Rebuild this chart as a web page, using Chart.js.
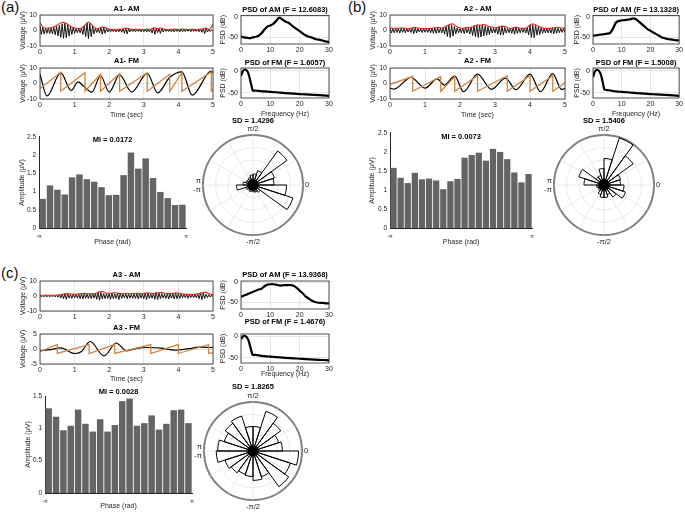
<!DOCTYPE html>
<html>
<head>
<meta charset="utf-8">
<title>Phase-amplitude coupling</title>
<script src="https://cdn.jsdelivr.net/npm/chart.js@4.4.1/dist/chart.umd.min.js"></script>
<style>
  html, body { margin: 0; padding: 0; background: #fff; }
  body { width: 685px; height: 513px; position: relative; overflow: hidden; font-family: "Liberation Sans", Arial, sans-serif; }
  canvas { position: absolute; }
  .tag { position: absolute; font-size: 15px; color: #111; }
</style>
</head>
<body>
<div class="tag" style="left:1px;top:-2px">(a)</div>
<div class="tag" style="left:348px;top:-2px">(b)</div>
<div class="tag" style="left:1px;top:264px">(c)</div>
<script>
// ---------- shared ticks ----------
const timeTicks = [0, 1, 2, 3, 4, 5];
const freqTicks = [0, 10, 20, 30];
const amStep = 0.04;   // s between carrier half-cycles
const envStep = 0.1;   // s between envelope samples
const psdFreq = [0,1,2,3,4,5,6,7,8,9,10,11,12,13,14,15,16,17,18,19,20,21,22,23,24,25,26,27,28,29,30];
const fmFreq = [0,0.5,1,1.5,2,2.5,3,3.5,4,5,6,8,10,12,15,18,20,22,25,28,30];

// ---------- panel (a) ----------
const carrierA = [3.0,-2.5,2.0,-2.2,1.6,-1.8,1.5,-2.0,1.6,-2.2,2.0,-2.8,2.6,
  -3.5,3.4,-4.5,4.2,-5.0,4.6,-4.8,3.8,-3.6,2.8,-2.6,2.0,
  -1.8,1.2,-1.4,1.0,-1.5,1.6,-2.6,3.2,-4.0,4.8,-5.2,4.6,-4.0,
  3.0,-2.2,1.4,-1.3,1.2,-1.6,1.8,-2.4,2.0,-1.8,1.3,-1.0,
  0.7,-0.8,0.6,-0.7,0.8,-0.9,0.7,-0.8,0.9,-1.1,1.2,-1.8,1.6,
  -2.2,1.2,-0.9,0.6,-0.7,0.6,-0.8,0.7,-0.6,0.7,-0.9,0.6,
  -0.7,0.8,-1.0,0.8,-0.9,1.0,-1.6,1.8,-2.4,1.6,-1.4,1.2,-1.8,
  1.5,-1.0,0.7,-0.6,0.5,-0.7,0.6,-0.8,0.7,-0.9,0.8,-0.6,
  0.6,-0.9,1.0,-0.8,0.6,-0.7,0.6,-0.5,0.6,-0.8,0.7,-0.6,0.5,
  -0.6,0.7,-0.8,0.9,-1.2,1.4,-2.0,1.6,-1.0,0.7,-0.6,0.5,
  -0.4];
const envelopeA = [5.0,2.0,1.5,1.8,2.2,3.5,4.8,5.2,4.0,2.5,1.8,1.2,1.5,3.5,5.5,3.8,1.6,1.4,2.2,1.8,
  0.8,0.6,0.8,0.7,1.0,1.6,0.9,0.6,0.8,0.7,0.6,0.9,0.8,1.8,1.2,1.6,0.8,0.6,0.7,0.9,
  0.6,1.0,0.7,0.6,0.8,0.6,0.7,1.0,1.6,0.8,4.0];
const fmTimeA = [0,0.2,0.6,0.9,1.1,1.25,1.5,1.75,2.0,2.3,2.65,3.1,3.4,3.75,4.1,4.4,4.95,5];
const fmWaveA = [6,-8,6.8,-4.5,1,-1.5,-5.5,5,-5.5,5.5,-5.5,6.5,-6,4,7.5,-7.5,8,7];
const sawTimeA = [0,0.6,0.6,1.3,1.3,1.75,1.75,2.3,2.3,3.1,3.1,3.75,3.75,4.1,4.1,4.95,4.95,5];
const sawA = [-3.2,7.2,-5,7,-5,6,-5,6.5,-5,7,-5,6,-5,7,-5,7.5,-5,-4];
const psdAmA = [-48,-50,-51,-52,-50,-48.5,-46,-40,-31,-24,-21,-17,-10,-2,-6,-11,-14,-19,-25,-30,-35,-40,-45,-48,-50,-53,-55,-56,-58,-60,-61];
const psdFmA = [-12,-3,2,2,0,-6,-18,-32,-45,-45,-46,-47,-48,-49,-51,-52,-53,-54,-55,-56,-57];
const ampA = [0.80,1.17,1.05,0.92,1.39,1.47,1.34,1.27,1.12,0.90,0.91,1.45,2.07,1.63,1.91,1.37,0.99,0.82,0.63,0.64];
const roseA = [0.42,0.45,0.84,0.30,0.22,0.20,0.16,0.14,0.15,0.20,0.33,0.15,0.12,0.14,0.12,0.14,0.15,0.18,0.84,0.67];

// ---------- panel (b) ----------
const carrierB = [1.4,-1.6,1.2,-1.5,1.5,-1.3,1.2,-1.6,1.4,-1.2,1.3,-1.5,1.1,
  -1.0,1.2,-1.3,1.6,-2.0,1.8,-1.6,1.2,-1.0,1.1,-1.3,1.2,
  -1.1,1.0,-1.2,1.3,-1.5,1.6,-1.8,1.7,-1.9,1.8,-1.5,1.4,-1.6,
  1.8,-2.4,3.0,-3.8,3.6,-4.5,3.4,-3.6,2.6,-2.2,1.6,-1.4,
  1.3,-1.5,1.6,-2.0,1.8,-1.6,1.5,-2.2,2.4,-3.2,3.2,-4.0,3.6,
  -4.5,3.3,-4.2,3.8,-3.5,2.8,-3.0,2.4,-2.6,2.0,-1.6,1.4,
  -1.5,1.8,-2.4,2.6,-3.0,2.6,-2.8,2.0,-1.6,1.3,-1.4,1.5,-1.8,
  2.0,-2.4,2.2,-1.8,1.5,-1.4,1.3,-1.2,1.4,-1.6,2.0,-2.8,
  3.5,-4.4,3.8,-4.6,3.4,-3.0,2.4,-2.6,2.0,-1.8,1.4,-1.5,1.3,
  -1.6,1.4,-1.7,1.9,-2.2,2.0,-1.8,1.5,-1.4,1.3,-1.2,1.4,
  -1.3];
const envelopeB = [1.6,1.5,1.4,1.6,1.5,1.3,1.4,2.0,1.6,1.3,1.2,1.3,1.5,1.8,1.9,1.6,2.5,3.8,4.2,2.6,
  1.6,1.5,2.0,1.8,2.6,3.6,3.4,3.8,2.8,2.4,1.6,2.2,2.8,2.4,1.5,1.4,2.2,1.6,1.4,1.5,
  3.8,4.2,3.2,2.2,1.5,1.4,1.5,1.8,2.1,1.6,1.5];
const fmTimeB = [0,0.12,0.6,1.0,1.35,1.55,1.85,2.1,2.5,2.9,3.3,3.6,4.0,4.3,4.65,4.9,5];
const fmWaveB = [-3,-3.6,4,-3,3,-1,4.7,-5.3,6,-3.8,3.5,-4,6,-5.3,6.4,-3.8,-3.2];
const sawTimeB = [0,0.65,0.65,1.45,1.45,1.85,1.85,2.5,2.5,3.35,3.35,4.0,4.0,4.65,4.65,5];
const sawB = [-0.5,4.5,-5,4.5,-5,4.5,-5,5,-5,5,-5,5,-5,5,-5,0.5];
const psdAmB = [-46,-45,-44,-43,-42,-41,-39,-28,-14,-10,-9,-8,-7,-6,-4,-6,-12,-18,-24,-30,-34,-38,-42,-46,-50,-52,-54,-55,-56,-57,-57];
const psdFmB = [-15,-4,1,2,0,-5,-15,-30,-43,-44,-45,-47,-48,-49,-51,-52,-53,-54,-55,-56,-57];
const ampB = [1.58,1.32,1.18,1.45,1.28,1.30,1.25,1.02,1.23,1.29,1.85,1.92,1.98,1.77,2.08,2.00,1.81,1.46,1.20,1.42];
const roseB = [0.33,0.35,0.72,0.99,0.53,0.33,0.20,0.20,0.53,0.40,0.15,0.12,0.14,0.20,0.25,0.25,0.20,0.30,0.45,0.40];

// ---------- panel (c) ----------
const carrierC = [0.4,-0.5,0.3,-0.4,0.5,-0.4,0.3,-0.5,0.4,-0.3,0.5,-0.6,0.5,
  -0.8,1.0,-1.4,1.2,-1.8,1.5,-2.2,1.6,-1.4,1.2,-1.6,1.4,
  -1.2,1.0,-1.5,1.3,-1.8,1.6,-2.0,1.8,-1.5,1.2,-1.6,1.5,-1.8,
  1.6,-1.4,1.8,-2.2,2.6,-2.8,2.4,-2.0,1.6,-1.8,1.5,-1.6,
  1.8,-2.2,2.0,-1.8,1.4,-1.6,1.8,-2.4,2.0,-1.6,1.4,-1.2,1.5,
  -1.8,1.6,-1.4,1.2,-1.5,1.3,-1.6,1.8,-2.0,1.6,-1.4,1.5,
  -1.8,2.0,-2.4,2.0,-1.6,1.4,-1.5,1.8,-2.2,2.6,-2.4,2.0,-1.8,
  1.6,-1.4,1.2,-1.6,1.8,-2.0,1.6,-1.4,1.6,-2.0,2.2,-1.8,
  1.5,-1.6,1.4,-1.2,1.0,-1.2,1.4,-1.6,1.2,-1.0,0.9,-1.1,1.0,
  -1.2,1.4,-1.8,2.2,-2.4,2.0,-1.5,1.2,-1.0,0.8,-0.7,0.6,
  -0.5];
const envelopeC = [0.5,0.5,0.4,0.5,0.5,0.6,0.8,1.4,1.6,1.2,1.2,1.4,1.6,1.8,1.5,1.4,1.6,2.6,3.0,2.0,
  1.8,2.0,2.2,1.6,1.5,1.8,1.5,1.6,1.8,1.7,1.8,2.2,1.8,1.6,2.0,2.4,1.8,1.6,1.7,1.8,
  2.0,1.4,1.2,1.1,1.0,1.3,1.6,2.2,2.4,1.4,1.0];
const fmTimeC = [0,0.3,0.6,1.0,1.2,1.45,1.85,2.2,2.5,2.8,3.1,3.5,3.9,4.3,4.6,5];
const fmWaveC = [-0.6,-0.2,0.4,-1.5,-0.8,2.5,-2.3,2.0,-0.6,0.2,0.5,0.3,-0.4,0.1,0.6,0.5];
const sawTimeC = [0,0.5,0.5,1.42,1.42,2.16,2.16,3.2,3.2,4.0,4.0,4.87,4.87,5];
const sawC = [-0.9,1.5,-1.5,1.5,-1.5,1.5,-1.5,1.5,-1.5,1.5,-1.5,1.5,-1.5,-1.2];
const psdAmC = [-36,-33,-30,-27,-24,-21,-18,-16,-10,-6,-5,-5,-6,-8,-8,-7,-7,-7,-9,-14,-21,-27,-35,-40,-45,-48,-50,-51,-51,-52,-52];
const psdFmC = [-6,-1,2,1,-2,-8,-20,-33,-43,-43,-44,-46,-47,-48,-50,-51,-52,-53,-54,-55,-56];
const ampC = [1.31,1.18,0.97,1.04,1.29,1.07,0.95,1.14,0.95,1.05,1.42,1.46,1.04,1.08,1.20,0.98,1.07,1.28,1.29,1.08];
const roseC = [0.60,0.55,0.70,0.85,0.50,0.50,0.75,0.70,0.62,0.72,0.75,0.60,0.55,0.50,0.52,0.60,0.55,0.90,0.80,0.93];

const polarLabels = ['π/2', '', '', '0', '', '', '-π/2', '', '', ['π', '-π'], '', ''];

// ---------- defaults ----------
Chart.defaults.font.family = '"Liberation Sans", Arial, sans-serif';
Chart.defaults.font.size = 7;
Chart.defaults.color = '#262626';
Chart.defaults.animation = false;
Chart.defaults.responsive = false;
Chart.defaults.plugins.legend.display = false;
Chart.defaults.plugins.tooltip.enabled = false;
Chart.defaults.elements.point.radius = 0;

const GRID = '#e6e6e6';
const AXIS = '#262626';
const RED = '#e3261f';
const ORANGE = '#d0843f';

const boxFrame = {
  id: 'boxFrame',
  afterDraw(chart) {
    const { ctx, chartArea: a } = chart;
    ctx.save();
    ctx.strokeStyle = AXIS;
    ctx.lineWidth = 0.8;
    ctx.strokeRect(a.left, a.top, a.right - a.left, a.bottom - a.top);
    ctx.restore();
  }
};

const pts = (xs, ys) => xs.map((x, i) => ({ x, y: ys[i] }));
const sampled = (step, ys) => ys.map((y, i) => ({ x: i * step, y }));
const tickAt = vals => s => { s.ticks = vals.map(v => ({ value: v })); };
const plain = v => String(+v.toFixed(2));

// box = plot area on the page; f = centres of title / y label / x label
function frame(box, f) {
  const left = f.yLabelX - 5;
  const top = Math.min(f.titleY - 6, box.y - 5);
  const bottom = f.xLabelY ? f.xLabelY + 5 : box.y + box.h + 12;
  const pad = { l: box.x - left, t: box.y - top, r: f.r || 6, b: bottom - box.y - box.h, titleTop: f.titleY - 4.5 - top };
  const c = document.createElement('canvas');
  c.width = box.w + pad.l + pad.r;
  c.height = box.h + pad.t + pad.b;
  c.style.left = left + 'px';
  c.style.top = top + 'px';
  document.body.appendChild(c);
  return { canvas: c, pad };
}

function titleOpt(text, pad) {
  return { display: true, text, color: '#000', fullSize: false,
    font: { size: 7.5, weight: 'bold', lineHeight: 1.2 },
    padding: { top: pad.titleTop, bottom: pad.t - pad.titleTop - 9 } };
}

function xAxis(pad, min, max, ticks, label, extra) {
  return Object.assign({
    type: 'linear', min, max,
    afterBuildTicks: tickAt(ticks),
    afterFit: s => { s.height = pad.b; },
    grid: { color: GRID, drawTicks: false },
    border: { display: false },
    ticks: { padding: 2, maxRotation: 0, autoSkip: false },
    title: label ? { display: true, text: label, font: { size: 7 }, padding: { top: 0, bottom: 0.8 } } : { display: false }
  }, extra || {});
}

function yAxis(pad, min, max, ticks, label, extra) {
  return Object.assign({
    min, max,
    afterBuildTicks: tickAt(ticks),
    afterFit: s => { s.width = pad.l; },
    grid: { color: GRID, drawTicks: false },
    border: { display: false },
    ticks: { padding: 3, callback: plain },
    title: { display: true, text: label, font: { size: 7 }, padding: { top: 0.8, bottom: 0 } }
  }, extra || {});
}

function amPlot(box, f, title, carrier, envelope) {
  const { canvas, pad } = frame(box, f);
  new Chart(canvas, {
    type: 'line',
    data: { datasets: [
      { data: sampled(envStep, envelope), borderColor: RED, borderWidth: 1.1, tension: 0.3 },
      { data: sampled(amStep, carrier), borderColor: '#000', borderWidth: 0.9 }
    ] },
    options: {
      layout: { padding: { left: 0, top: 0, right: pad.r, bottom: 0 } },
      plugins: { title: titleOpt(title, pad) },
      scales: { x: xAxis(pad, 0, 5, timeTicks), y: yAxis(pad, -10, 10, [-10, 0, 10], 'Voltage (μV)') }
    },
    plugins: [boxFrame]
  });
}

function fmPlot(box, f, title, lim, tTime, wave, sTime, saw) {
  const { canvas, pad } = frame(box, f);
  new Chart(canvas, {
    type: 'line',
    data: { datasets: [
      { data: pts(sTime, saw), borderColor: ORANGE, borderWidth: 1.3 },
      { data: pts(tTime, wave), borderColor: '#000', borderWidth: 1.2, cubicInterpolationMode: 'monotone' }
    ] },
    options: {
      layout: { padding: { left: 0, top: 0, right: pad.r, bottom: 0 } },
      plugins: { title: titleOpt(title, pad) },
      scales: { x: xAxis(pad, 0, 5, timeTicks, 'Time (sec)'), y: yAxis(pad, -lim, lim, [-lim, 0, lim], 'Voltage (μV)') }
    },
    plugins: [boxFrame]
  });
}

function psdPlot(box, f, title, freq, db, range) {
  const { canvas, pad } = frame(box, f);
  new Chart(canvas, {
    type: 'line',
    data: { datasets: [{ data: pts(freq, db), borderColor: '#000', borderWidth: 2.2, tension: 0.2 }] },
    options: {
      layout: { padding: { left: 0, top: 0, right: pad.r, bottom: 0 } },
      plugins: { title: titleOpt(title, pad) },
      scales: { x: xAxis(pad, 0, 30, freqTicks, f.xLabelY ? 'Frequency (Hz)' : null),
                y: yAxis(pad, range[0], range[1], [-50, 0], 'PSD (dB)') }
    },
    plugins: [boxFrame]
  });
}

function ampPlot(box, f, title, amps, yMax, yTicks) {
  const { canvas, pad } = frame(box, f);
  const binWidth = 2 * Math.PI / amps.length;
  const bars = amps.map((v, i) => ({ x: -Math.PI + (i + 0.5) * binWidth, y: v }));
  new Chart(canvas, {
    type: 'bar',
    data: { datasets: [{ data: bars, backgroundColor: '#646464', barPercentage: 0.88, categoryPercentage: 1 }] },
    options: {
      layout: { padding: { left: 0, top: 0, right: pad.r, bottom: 0 } },
      plugins: { title: titleOpt(title, pad) },
      scales: {
        x: xAxis(pad, -Math.PI, Math.PI, [-Math.PI, Math.PI], 'Phase (rad)', {
          offset: false,
          grid: { display: false, drawTicks: false },
          border: { display: true, color: AXIS, width: 1 },
          ticks: { padding: 5, maxRotation: 0, autoSkip: false, font: { size: 5.5 }, callback: v => (v < 0 ? '-π' : 'π') }
        }),
        y: yAxis(pad, 0, yMax, yTicks, 'Amplitude (μV)', {
          grid: { display: false, drawTicks: false },
          border: { display: true, color: AXIS, width: 1 },
          ticks: { padding: 3, font: { size: 6.5 }, callback: plain }
        })
      }
    }
  });
}

function rosePlot(cx, cy, size, titleY, title, petals) {
  // polar grid with its labels
  const gc = document.createElement('canvas');
  gc.width = size; gc.height = size;
  document.body.appendChild(gc);
  const grid = new Chart(gc, {
    type: 'polarArea',
    data: { labels: polarLabels, datasets: [{ data: polarLabels.map(() => 0) }] },
    options: {
      scales: { r: {
        min: 0, max: 1,
        ticks: { display: false, stepSize: 0.25 },
        grid: { circular: true,
          color: c => (c.tick && c.tick.value === 1 ? '#808080' : '#e4e4e4'),
          lineWidth: c => (c.tick && c.tick.value === 1 ? 2 : 0.8) },
        angleLines: { display: true, color: '#e4e4e4', lineWidth: 0.8 },
        pointLabels: { display: true, padding: 2, font: { size: 7.5 }, color: '#262626' }
      } }
    }
  });
  const r = grid.scales.r;
  const R = r.drawingArea;
  gc.style.left = (cx - r.xCenter) + 'px';
  gc.style.top = (cy - r.yCenter) + 'px';

  // rose petals + title on top
  const pc = document.createElement('canvas');
  const top = titleY - 6;
  pc.width = 2 * R; pc.height = cy + R - top;
  pc.style.left = (cx - R) + 'px';
  pc.style.top = top + 'px';
  document.body.appendChild(pc);
  const hub = petals.map(() => 0.11);
  new Chart(pc, {
    type: 'polarArea',
    data: { labels: petals.map((_, i) => i), datasets: [
      { data: hub.slice().reverse(), backgroundColor: '#000', borderWidth: 0 },
      { data: petals.slice().reverse(), backgroundColor: 'rgba(255,255,255,0)', borderColor: '#000', borderWidth: 1 }
    ] },
    options: {
      plugins: { title: { display: true, text: title, color: '#000', font: { size: 7.5, weight: 'bold', lineHeight: 1.2 },
        padding: { top: 1.5, bottom: (cy - R) - top - 1.5 - 9 } } },
      scales: { r: { min: 0, max: 1, startAngle: 90, ticks: { display: false }, grid: { display: false },
        angleLines: { display: false }, pointLabels: { display: false } } }
    }
  });
}

// ---------- panel (a) ----------
amPlot({ x: 40, y: 15, w: 173, h: 31 }, { titleY: 9, yLabelX: 23 }, 'A1- AM', carrierA, envelopeA);
fmPlot({ x: 40, y: 68, w: 173, h: 31 }, { titleY: 61, yLabelX: 23, xLabelY: 115 }, 'A1- FM', 10, fmTimeA, fmWaveA, sawTimeA, sawA);
psdPlot({ x: 241, y: 15, w: 88, h: 29 }, { titleY: 9.5, yLabelX: 223 }, 'PSD of AM (F = 12.6083)', psdFreq, psdAmA, [-66, 3]);
psdPlot({ x: 241, y: 68, w: 88, h: 30 }, { titleY: 63, yLabelX: 223, xLabelY: 114 }, 'PSD of FM (F = 1.6057)', fmFreq, psdFmA, [-62, 6]);
ampPlot({ x: 39, y: 135, w: 148, h: 93 }, { titleY: 138, yLabelX: 22, xLabelY: 242 }, 'MI = 0.0172', ampA, 2.5, [0, 0.5, 1, 1.5, 2, 2.5]);
rosePlot(253, 185, 122, 121, 'SD = 1.4296', roseA);

// ---------- panel (b) ----------
amPlot({ x: 390, y: 15, w: 175, h: 31 }, { titleY: 9, yLabelX: 373 }, 'A2 - AM', carrierB, envelopeB);
fmPlot({ x: 390, y: 68, w: 175, h: 31 }, { titleY: 61, yLabelX: 373, xLabelY: 115 }, 'A2 - FM', 10, fmTimeB, fmWaveB, sawTimeB, sawB);
psdPlot({ x: 593, y: 15, w: 88, h: 29 }, { titleY: 9.5, yLabelX: 577, r: 4 }, 'PSD of AM (F = 13.1328)', psdFreq, psdAmB, [-66, 3]);
psdPlot({ x: 593, y: 68, w: 88, h: 30 }, { titleY: 63, yLabelX: 577, xLabelY: 114, r: 4 }, 'PSD of FM (F = 1.5008)', fmFreq, psdFmB, [-62, 6]);
ampPlot({ x: 390, y: 131, w: 143, h: 97 }, { titleY: 135, yLabelX: 372, xLabelY: 242 }, 'MI = 0.0073', ampB, 2.5, [0, 0.5, 1, 1.5, 2, 2.5]);
rosePlot(604, 185, 122, 121, 'SD = 1.5406', roseB);

// ---------- panel (c) ----------
amPlot({ x: 40, y: 281, w: 173, h: 30 }, { titleY: 275, yLabelX: 23 }, 'A3 - AM', carrierC, envelopeC);
fmPlot({ x: 40, y: 334, w: 173, h: 30 }, { titleY: 328, yLabelX: 23, xLabelY: 379 }, 'A3 - FM', 5, fmTimeC, fmWaveC, sawTimeC, sawC);
psdPlot({ x: 241, y: 281, w: 88, h: 28 }, { titleY: 275, yLabelX: 223 }, 'PSD of AM (F = 13.9368)', psdFreq, psdAmC, [-66, 3]);
psdPlot({ x: 241, y: 334, w: 88, h: 29 }, { titleY: 322, yLabelX: 223, xLabelY: 374 }, 'PSD of FM (F = 1.4676)', fmFreq, psdFmC, [-62, 6]);
ampPlot({ x: 45, y: 396, w: 148, h: 97 }, { titleY: 392, yLabelX: 28, xLabelY: 506 }, 'MI = 0.0028', ampC, 1.5, [0, 0.5, 1, 1.5]);
rosePlot(253, 451, 120, 387, 'SD = 1.8265', roseC);
</script>
</body>
</html>
